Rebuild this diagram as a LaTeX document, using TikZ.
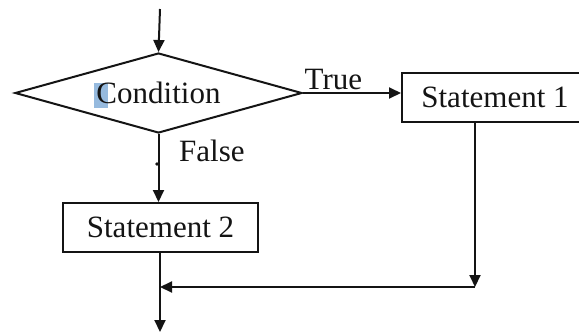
\documentclass[tikz,border=0pt]{standalone}
\usepackage{fontspec}
\setmainfont{Liberation Serif}
\usetikzlibrary{shapes.geometric,arrows.meta}
\definecolor{hlblue}{RGB}{150,186,222}
\definecolor{ink}{RGB}{20,20,20}
\tikzset{
  flow/.style={line width=2pt, draw=ink, -{Triangle[length=12pt,width=11pt]}},
  decision/.style={shape=diamond, draw=ink, line width=2pt, inner sep=0pt,
    shape aspect=3.6, minimum width=287pt, minimum height=80pt},
  stmt/.style={shape=rectangle, draw=ink, line width=2pt, inner sep=0pt,
    minimum height=49pt},
  lbl/.style={inner sep=0pt, text=ink},
}
\begin{document}
\begin{tikzpicture}[x=1pt, y=-1pt, font=\fontsize{31}{34}\selectfont]
  \clip (0,0) rectangle (579,333);
  \fill[white] (0,0) rectangle (579,333);

  % text-selection mark behind the first letter
  \fill[hlblue] (94,83) rectangle (108,108);

  % decision and the two statements
  \node[decision, text=ink] (cond) at (158.5,93) {Condition};
  \node[stmt, minimum width=186pt, text=ink] (s1) at (495,97.5) {Statement 1};
  \node[stmt, minimum width=195pt, text=ink] (s2) at (160.5,227.5) {Statement 2};

  % free ends and the joining point
  \coordinate (start) at (160,9);
  \coordinate (j1) at (475,287);
  \coordinate (j2) at (160,287);
  \coordinate (stop) at (160,332);

  % connectors
  \draw[flow] (start) -- (cond.north);
  \draw[flow] (cond.east) -- node[lbl, anchor=south, pos=0.31, yshift=2pt] (ltrue) {True} (cond.east -| s1.west);
  \draw[flow] (cond.south) -- (s2.north -| cond.south);
  \node[lbl, anchor=west] (lfalse) at (179,151) {False};
  \fill[ink] (157,164) circle (1.8pt);
  \draw[flow] (s1.south -| j1) -- (j1);
  \draw[flow] (j1) -- (j2);
  \draw[flow] (s2.south -| j2) -- (stop);
\end{tikzpicture}
\end{document}
